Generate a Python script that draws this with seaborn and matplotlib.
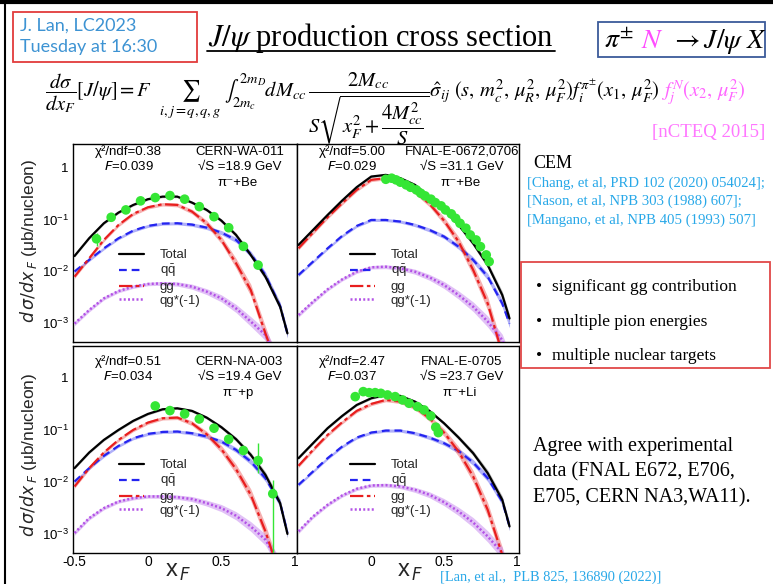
import numpy as np
import pandas as pd
import matplotlib
matplotlib.use("Agg")
import matplotlib.pyplot as plt
import seaborn as sns
from matplotlib.lines import Line2D
from matplotlib.patches import Rectangle
from matplotlib.ticker import FixedLocator, MultipleLocator, LogLocator, NullFormatter

# ---------------- data ----------------
x_nodes = [-0.5, -0.4, -0.3, -0.2, -0.1, 0.0, 0.1, 0.2, 0.3, 0.4, 0.5, 0.6, 0.7, 0.8, 0.9, 0.95]

# CERN-WA-011, sqrt(S)=18.9 GeV, pi- + Be
wa11_total = [0.0195, 0.0432, 0.0843, 0.136, 0.191, 0.247, 0.277, 0.277, 0.212, 0.153, 0.0948, 0.050, 0.0205, 0.00776, 0.00203, 0.000617]
wa11_qqbar = [0.00977, 0.0164, 0.0275, 0.0432, 0.0607, 0.0748, 0.083, 0.0843, 0.0794, 0.0693, 0.0555, 0.040, 0.0214, 0.00836, 0.00209, 0.000603]
wa11_gg = [0.00776, 0.0176, 0.040, 0.0782, 0.128, 0.172, 0.197, 0.191, 0.142, 0.0843, 0.040, 0.0141, 0.00428, 0.000617, 0.0001, 0.000032]
wa11_qg = [0.000955, 0.00175, 0.00295, 0.00409, 0.00497, 0.0056, 0.00577, 0.0056, 0.00497, 0.00398, 0.00295, 0.00188, 0.00105, 0.000575, 0.000158, 0.000063]
wa11_x = [-0.35, -0.25, -0.15, -0.05, 0.05, 0.15, 0.25, 0.35, 0.45, 0.55, 0.65, 0.75]
wa11_y = [0.042, 0.110, 0.153, 0.229, 0.265, 0.290, 0.247, 0.177, 0.113, 0.069, 0.030, 0.013]
wa11_err = [0.012, 0.010, 0.010, 0.012, 0.012, 0.012, 0.012, 0.010, 0.008, 0.005, 0.003, 0.002]

# FNAL-E-0672,0706, sqrt(S)=31.1 GeV, pi- + Be
e672_total = [0.032, 0.0625, 0.122, 0.232, 0.422, 0.678, 0.731, 0.631, 0.468, 0.277, 0.153, 0.0782, 0.0344, 0.0131, 0.00342, 0.0012]
e672_qqbar = [0.00836, 0.0152, 0.0275, 0.0479, 0.0748, 0.0977, 0.0977, 0.0908, 0.0782, 0.0625, 0.0465, 0.0296, 0.0164, 0.00776, 0.00234, 0.000955]
e672_gg = [0.0275, 0.0555, 0.110, 0.206, 0.374, 0.585, 0.631, 0.519, 0.347, 0.200, 0.0948, 0.0371, 0.0105, 0.00234, 0.000251, 0.000063]
e672_qg = [0.0014, 0.00254, 0.00441, 0.00689, 0.0097, 0.0118, 0.0121, 0.0113, 0.0097, 0.00753, 0.00535, 0.00342, 0.00203, 0.00105, 0.000457, 0.0002]
e672_x = [0.10, 0.14, 0.17, 0.20, 0.24, 0.27, 0.31, 0.34, 0.37, 0.41, 0.44, 0.48, 0.51, 0.55, 0.58, 0.61, 0.65, 0.68, 0.72, 0.75, 0.79, 0.81]
e672_y = [0.60, 0.63, 0.585, 0.527, 0.468, 0.42, 0.374, 0.322, 0.286, 0.247, 0.212, 0.183, 0.153, 0.128, 0.105, 0.084, 0.0675, 0.050, 0.040, 0.0297, 0.0205, 0.0152]
e672_err = [0.03, 0.03, 0.03, 0.03, 0.02, 0.02, 0.02, 0.02, 0.02, 0.015, 0.012, 0.01, 0.01, 0.008, 0.006, 0.005, 0.004, 0.003, 0.003, 0.002, 0.002, 0.001]

# CERN-NA-003, sqrt(S)=19.4 GeV, pi- + p
na3_total = [0.0183, 0.0365, 0.0638, 0.0993, 0.148, 0.201, 0.247, 0.258, 0.230, 0.171, 0.112, 0.0658, 0.033, 0.0136, 0.0039, 0.001]
na3_qqbar = [0.0101, 0.0183, 0.0315, 0.049, 0.0687, 0.0832, 0.0908, 0.0923, 0.0857, 0.074, 0.0593, 0.041, 0.0245, 0.01175, 0.0039, 0.00104]
na3_gg = [0.00813, 0.0183, 0.0365, 0.0638, 0.0993, 0.137, 0.166, 0.171, 0.133, 0.082, 0.0423, 0.0175, 0.00564, 0.00112, 0.000158, 0.00005]
na3_qg = [0.00104, 0.00201, 0.00313, 0.0042, 0.00486, 0.00524, 0.00524, 0.00508, 0.00466, 0.0039, 0.00313, 0.00223, 0.00139, 0.000773, 0.000251, 0.0001]
na3_x = [0.05, 0.15, 0.25, 0.35, 0.45, 0.55, 0.65, 0.75, 0.85]
na3_y = [0.286, 0.233, 0.201, 0.161, 0.107, 0.0658, 0.0399, 0.0256, 0.0059]
na3_err_lo = [0.01, 0.01, 0.01, 0.008, 0.006, 0.004, 0.003, 0.0108, 0.00589]
na3_err_hi = [0.01, 0.01, 0.01, 0.008, 0.006, 0.004, 0.003, 0.029, 0.0051]

# FNAL-E-0705, sqrt(S)=23.7 GeV, pi- + Li
e705_total = [0.0284, 0.0551, 0.107, 0.184, 0.299, 0.402, 0.466, 0.446, 0.347, 0.230, 0.133, 0.0708, 0.0355, 0.0147, 0.00452, 0.00139]
e705_qqbar = [0.00875, 0.0158, 0.0284, 0.0475, 0.0708, 0.0883, 0.0964, 0.0964, 0.0857, 0.0708, 0.0551, 0.0393, 0.0235, 0.01175, 0.0042, 0.00139]
e705_gg = [0.0203, 0.041, 0.0796, 0.139, 0.230, 0.313, 0.373, 0.347, 0.270, 0.166, 0.0883, 0.0381, 0.01265, 0.0029, 0.000398, 0.0001]
e705_qg = [0.00112, 0.00216, 0.00362, 0.00547, 0.00735, 0.00851, 0.00863, 0.00815, 0.00703, 0.00564, 0.00407, 0.0027, 0.00166, 0.000895, 0.00043, 0.000158]
e705_x = [-0.11, -0.055, -0.014, 0.027, 0.066, 0.112, 0.164, 0.215, 0.26, 0.317, 0.363, 0.409, 0.443, 0.461]
e705_y = [0.432, 0.539, 0.515, 0.515, 0.50, 0.465, 0.432, 0.373, 0.322, 0.278, 0.24, 0.184, 0.112, 0.088]
e705_err = [0.02, 0.02, 0.02, 0.02, 0.02, 0.02, 0.02, 0.015, 0.015, 0.012, 0.01, 0.01, 0.008, 0.008]

# relative half-widths of the theory uncertainty bands
band_total = [0.05, 0.05, 0.05, 0.05, 0.05, 0.05, 0.05, 0.05, 0.06, 0.07, 0.08, 0.10, 0.12, 0.15, 0.18, 0.20]
band_qqbar = [0.07, 0.07, 0.07, 0.07, 0.07, 0.07, 0.07, 0.07, 0.08, 0.09, 0.10, 0.12, 0.14, 0.16, 0.18, 0.20]
band_gg = [0.08, 0.08, 0.08, 0.08, 0.08, 0.08, 0.08, 0.09, 0.11, 0.14, 0.18, 0.24, 0.30, 0.36, 0.40, 0.40]
band_qg = [0.10, 0.09, 0.08, 0.08, 0.08, 0.08, 0.09, 0.10, 0.12, 0.14, 0.17, 0.20, 0.24, 0.28, 0.30, 0.30]

legend_labels = ["Total", r"q$\mathregular{\bar{q}}$", "gg", "qg*(-1)"]
x_tick_vals = [-0.5, 0, 0.5, 1]
x_tick_text = ["-0.5", "0", "0.5", "1"]
y_tick_vals = [1e-3, 1e-2, 1e-1, 1]
y_tick_text = [r"$\mathregular{10^{-3}}$", r"$\mathregular{10^{-2}}$", r"$\mathregular{10^{-1}}$", "1"]

# ---------------- figure ----------------
sns.set_theme(style="white")
plt.rcParams['font.family'] = ['Liberation Sans', 'DejaVu Sans']
plt.rcParams['axes.unicode_minus'] = False

W, H = 773, 584
fig = plt.figure(figsize=(W / 100, H / 100), dpi=100)


def fx(x):
    return x / W


def fy(y):
    return 1 - y / H


def rect_px(l, t, r, b):
    return [l / W, 1 - b / H, (r - l) / W, (b - t) / H]


SERIF = ['Liberation Serif', 'DejaVu Serif']

styles = [
    ("Total", '#000000', '-', '#8a8a8a', 1.6),
    ("qq", '#2424f0', (0, (3.5, 2.2)), '#7070f5', 1.6),
    ("gg", '#e81e1e', (0, (6, 1.6, 1.6, 1.6)), '#ef6f6f', 1.6),
    ("qg", '#b352e6', (0, (0.8, 0.9)), '#c98ef0', 1.8),
]

panels = [
    dict(rect=(73, 144, 297, 342), ylim=(4.2e-4, 2.9), curves=[wa11_total, wa11_qqbar, wa11_gg, wa11_qg],
         dx=wa11_x, dy=wa11_y, elo=wa11_err, ehi=wa11_err, chi="χ²/ndf=0.38", F="0.039",
         exp="CERN-WA-011", rs="18.9", beam="π⁻+Be", left=True, bottom=False, dy0=0, legx=0.205),
    dict(rect=(297, 144, 519, 342), ylim=(4.2e-4, 2.9), curves=[e672_total, e672_qqbar, e672_gg, e672_qg],
         dx=e672_x, dy=e672_y, elo=e672_err, ehi=e672_err, chi="χ²/ndf=5.00", F="0.029",
         exp="FNAL-E-0672,0706", rs="31.1", beam="π⁻+Be", left=False, bottom=False, dy0=0, legx=0.239),
    dict(rect=(73, 346, 297, 553), ylim=(4.3e-4, 4.05), curves=[na3_total, na3_qqbar, na3_gg, na3_qg],
         dx=na3_x, dy=na3_y, elo=na3_err_lo, ehi=na3_err_hi, chi="χ²/ndf=0.51", F="0.034",
         exp="CERN-NA-003", rs="19.4", beam="π⁻+p", left=True, bottom=True, dy0=210, legx=0.205),
    dict(rect=(297, 346, 519, 553), ylim=(4.3e-4, 4.05), curves=[e705_total, e705_qqbar, e705_gg, e705_qg],
         dx=e705_x, dy=e705_y, elo=e705_err, ehi=e705_err, chi="χ²/ndf=2.47", F="0.037",
         exp="FNAL-E-0705", rs="23.7", beam="π⁻+Li", left=False, bottom=True, dy0=210, legx=0.239),
]

bands = [band_total, band_qqbar, band_gg, band_qg]
xn = np.array(x_nodes)

for p in panels:
    l, t, r, b = p['rect']
    ax = fig.add_axes(rect_px(l, t, r, b))
    ax.set_yscale('log')
    ax.set_xlim(-0.51, 1.015)
    ax.set_ylim(*p['ylim'])
    for (name, col, ls, bcol, lw), vals, bnd in zip(styles, p['curves'], bands):
        v = np.array(vals)
        f = 1 + np.array(bnd)
        ax.fill_between(xn, v / f, v * f, color=bcol, alpha=0.55, lw=0, zorder=1)
    for idx in [3, 1, 2, 0]:
        name, col, ls, bcol, lw = styles[idx]
        sns.lineplot(x=x_nodes, y=p['curves'][idx], ax=ax, color=col, linestyle=ls, lw=lw,
                     sort=False, estimator=None, legend=False, zorder=3)
    ax.errorbar(p['dx'], p['dy'], yerr=[p['elo'], p['ehi']], fmt='none', ecolor='#35e635',
                elinewidth=1.0, capsize=0, zorder=4)
    sns.scatterplot(x=p['dx'], y=p['dy'], ax=ax, color='#35e635', s=48, edgecolor='none',
                    legend=False, zorder=5)
    for sp in ax.spines.values():
        sp.set_color('black')
        sp.set_linewidth(1.0)
    ax.xaxis.set_major_locator(FixedLocator(x_tick_vals))
    ax.xaxis.set_minor_locator(MultipleLocator(0.1))
    ax.yaxis.set_major_locator(FixedLocator(y_tick_vals))
    ax.yaxis.set_minor_locator(LogLocator(base=10, subs=np.arange(2, 10)))
    ax.yaxis.set_minor_formatter(NullFormatter())
    ax.tick_params(which='both', direction='in', top=False, right=False, colors='black',
                   labelsize=9.5, pad=3)
    ax.tick_params(axis='x', which='major', pad=1.5)
    ax.tick_params(which='major', length=7, width=0.8)
    ax.tick_params(which='minor', length=3.5, width=0.8)
    if p['left']:
        ax.set_yticklabels(y_tick_text)
    else:
        ax.set_yticklabels([])
    if p['bottom']:
        labs = list(x_tick_text) if p['left'] else [""] + x_tick_text[1:]
        ax.set_xticklabels(labs, fontsize=10)
    else:
        ax.set_xticklabels([])
    ax.set_xlabel("")
    ax.set_ylabel("")
    ax.grid(False)

    def afy(py):
        return (b - py) / (b - t)

    d0 = p['dy0']
    tk = dict(transform=ax.transAxes, fontsize=9.5, color='black', ha='center', va='center')
    ax.text(0.248, afy(152 + d0), p['chi'], **tk)
    ax.text(0.248, afy(167 + d0), r"$F$=" + p['F'], **tk)
    ax.text(0.743, afy(152 + d0), p['exp'], **tk)
    ax.text(0.743, afy(167 + d0), "√S =" + p['rs'] + " GeV", **tk)
    ax.text(0.735, afy(183 + d0), p['beam'], **tk)

    handles = [Line2D([], [], color=s[1], linestyle=s[2], lw=s[4]) for s in styles]
    ax.legend(handles, legend_labels, loc='upper left', bbox_to_anchor=(p['legx'], afy(249 + d0)),
              frameon=False, fontsize=9.5, handlelength=1.9, handletextpad=1.2,
              labelspacing=0.12, borderpad=0, borderaxespad=0)

# y labels and x labels
ylab = r"$d\,\sigma/dx_{\,F}$ (μb/nucleon)"
fig.text(fx(29), fy(241), ylab, rotation=90, ha='center', va='center', fontsize=12.5)
fig.text(fx(29), fy(455), ylab, rotation=90, ha='center', va='center', fontsize=12.5)
fig.text(fx(178), fy(572), r"x$_{\,F}$", ha='center', va='center', fontsize=17)
fig.text(fx(410), fy(572), r"x$_{\,F}$", ha='center', va='center', fontsize=17)

# ---------------- slide decorations ----------------
fig.add_artist(Line2D([fx(0), fx(773)], [fy(2), fy(2)], color='black', lw=3))
fig.add_artist(Line2D([fx(5), fx(5)], [fy(0), fy(584)], color='black', lw=1.5))

fig.add_artist(Rectangle((fx(13), fy(62)), (197 - 13) / W, 50 / H, fill=False, ec='#e23b3b', lw=1.3))
fig.text(fx(20), fy(26), "J. Lan, LC2023", fontfamily=['Lato', 'DejaVu Sans'], fontsize=13,
         color='#3d93d3', ha='left', va='center')
fig.text(fx(20), fy(47), "Tuesday at 16:30", fontfamily=['Lato', 'DejaVu Sans'], fontsize=13,
         color='#3d93d3', ha='left', va='center')

fig.canvas.draw()
rend = fig.canvas.get_renderer()

title = fig.text(fx(208), fy(46), r"$J/\psi$ production cross section", fontfamily=SERIF,
                 math_fontfamily='stix', fontsize=22, color='black', ha='left', va='baseline')
bb = title.get_window_extent(renderer=rend)
fig.add_artist(Line2D([fx(bb.x0 - 1), fx(bb.x1 + 1)], [fy(51), fy(51)], color='black', lw=1.3))

fig.add_artist(Rectangle((fx(598), fy(57)), (765 - 598) / W, 35 / H, fill=False, ec='#3b5b9a', lw=1.3))


def place_row(x0, y0, text, col, kw):
    tt = fig.text(fx(x0), fy(y0), text, color=col, ha='left', va='baseline', **kw)
    e = tt.get_window_extent(renderer=rend)
    return e.x1


mk = dict(fontfamily=SERIF, math_fontfamily='stix', fontsize=20)
xr = place_row(604, 48, r"$\pi^{\pm}$", 'black', mk)
xr = place_row(xr + 7, 48, r"$N$", '#ff4cff', mk)
place_row(xr + 6, 48, r"$\rightarrow J/\psi\ X$", 'black', mk)

formula_main = (r"$\dfrac{d\sigma}{dx_F}[J/\psi]= F\ \ \sum_{i,j=q,q,g}\ \int_{2m_c}^{2m_D}dM_{cc}\,"
                r"\dfrac{2M_{cc}}{S\sqrt{x_F^2+\dfrac{4M_{cc}^2}{S}}}\hat{\sigma}_{ij}\ (s,\,m_c^2,\,\mu_R^2,\,\mu_F^2)"
                r"f_i^{\pi^{\pm}}(x_1,\,\mu_F^2)$")
formula_pdf = r"$f_j^N(x_2,\,\mu_F^2)$"
fk = dict(fontfamily=SERIF, math_fontfamily='stix', fontsize=14.8)
xr = place_row(45, 97, formula_main, 'black', fk)
place_row(xr + 1, 97, formula_pdf, '#ff66ff', fk)

fig.text(fx(765), fy(132), "[nCTEQ 2015]", fontfamily=SERIF, fontsize=13.5, color='#ff77ff',
         ha='right', va='center')
fig.text(fx(533), fy(163), "CEM", fontfamily=SERIF, fontsize=13, color='black', ha='left', va='center')
cites = ["[Chang, et al, PRD 102 (2020) 054024];", "[Nason, et al, NPB 303 (1988) 607];",
         "[Mangano, et al, NPB 405 (1993) 507]"]
for i, c in enumerate(cites):
    fig.text(fx(527), fy(183 + 18.5 * i), c, fontfamily=SERIF, fontsize=10.6, color='#28a8e8',
             ha='left', va='center')

fig.add_artist(Rectangle((fx(521), fy(368)), (770 - 521) / W, (368 - 262) / H, fill=False,
                         ec='#e04848', lw=1.3))
bullets = ["significant gg contribution", "multiple pion energies", "multiple nuclear targets"]
for i, s in enumerate(bullets):
    yy = 287 + 34.5 * i
    fig.text(fx(536), fy(yy), "•", fontfamily=SERIF, fontsize=12.5, ha='left', va='center', color='black')
    fig.text(fx(552), fy(yy), s, fontfamily=SERIF, fontsize=12.5, ha='left', va='center', color='black')

agree = ["Agree with experimental", "data (FNAL E672, E706,", "E705, CERN NA3,WA11)."]
for i, s in enumerate(agree):
    fig.text(fx(533), fy(446 + 26 * i), s, fontfamily=SERIF, fontsize=14.5, ha='left', va='center',
             color='black')

fig.text(fx(440), fy(577), "[Lan, et al.,  PLB 825, 136890 (2022)]", fontfamily=SERIF, fontsize=10.4,
         color='#28a8e8', ha='left', va='center')

fig.savefig("out.png", dpi=100)
